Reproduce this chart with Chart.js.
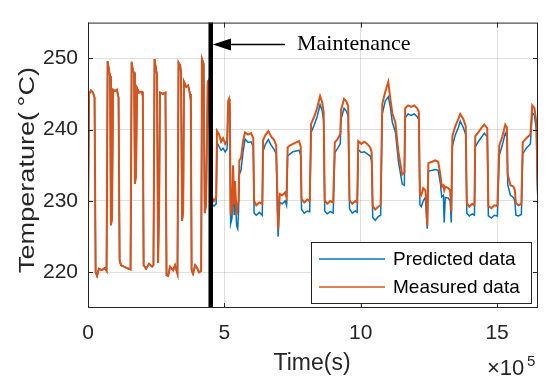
<!DOCTYPE html>
<html>
<head>
<meta charset="utf-8">
<script src="https://cdn.jsdelivr.net/npm/chart.js@4"></script>
<style>
  html, body { margin: 0; padding: 0; background: #fff; }
  #wrap { width: 550px; height: 387px; }
</style>
</head>
<body>
<div id="wrap"><canvas id="grafico" width="550" height="387"></canvas></div>
<script>
// tiempo en unidades de 1e5 s
const timeBefore = [0.00, 0.04, 0.11, 0.18, 0.24, 0.28, 0.33, 0.40, 0.51, 0.62, 0.68, 0.72, 0.77, 0.81, 0.84, 0.88,
  0.92, 0.99, 1.06, 1.12, 1.16, 1.21, 1.32, 1.43, 1.56, 1.60, 1.65, 1.69, 1.72, 1.76, 1.80, 1.87, 1.98, 2.01,
  2.04, 2.13, 2.24, 2.35, 2.40, 2.44, 2.50, 2.53, 2.57, 2.61, 2.64, 2.75, 2.84, 2.88, 2.94, 3.01, 3.12, 3.19,
  3.28, 3.32, 3.38, 3.41, 3.45, 3.49, 3.52, 3.60, 3.67, 3.74, 3.77, 3.80, 3.85, 3.93, 4.00, 4.07, 4.15, 4.18,
  4.24, 4.28, 4.33, 4.39, 4.44, 4.50];
const measuredBefore = [227.0, 245.0, 245.5, 245.2, 244.5, 220.0, 219.5, 220.5, 220.3, 220.6, 220.2, 249.6, 248.3, 247.5, 226.6, 227.5,
  245.6, 245.4, 245.6, 244.5, 221.6, 221.0, 220.8, 220.6, 220.4, 249.5, 248.2, 248.0, 232.4, 233.5, 245.8, 245.2, 245.3, 244.6,
  221.0, 220.5, 221.2, 220.8, 221.0, 249.9, 248.3, 247.8, 221.3, 230.0, 245.2, 245.0, 245.2, 219.6, 219.5, 220.8, 220.3, 221.0,
  219.8, 249.4, 249.0, 248.0, 227.2, 228.5, 246.7, 246.0, 246.2, 245.0, 244.0, 220.3, 219.8, 221.0, 220.6, 220.0, 220.2, 249.9,
  249.2, 228.3, 229.5, 246.7, 247.0, 228.0];
const predictedBefore = [227.0, 245.0, 245.5, 245.2, 244.5, 220.0, 219.5, 220.5, 220.3, 220.6, 220.2, 249.6, 248.3, 247.5, 226.6, 227.5,
  245.6, 245.4, 245.6, 244.5, 221.6, 221.0, 220.8, 220.6, 220.4, 249.5, 248.2, 248.0, 232.4, 233.5, 245.8, 245.2, 245.3, 244.6,
  221.0, 220.5, 221.2, 220.8, 221.0, 249.9, 248.3, 247.8, 221.3, 230.0, 245.2, 245.0, 245.2, 219.6, 219.5, 220.8, 220.3, 221.0,
  219.8, 249.4, 249.0, 248.0, 227.2, 228.5, 246.7, 246.0, 246.2, 245.0, 244.0, 220.3, 219.8, 221.0, 220.6, 220.0, 220.2, 249.9,
  249.2, 228.3, 229.5, 246.7, 247.0, 228.0];

const timeAfter = [4.55, 4.62, 4.70, 4.73, 4.81, 4.88, 4.95, 5.03, 5.10, 5.14, 5.17, 5.20, 5.23, 5.28, 5.32, 5.36, 5.39, 5.45,
  5.49, 5.52, 5.55, 5.61, 5.69, 5.76, 5.87, 5.98, 6.06, 6.09, 6.17, 6.28, 6.39, 6.42, 6.50, 6.61, 6.72, 6.83, 6.90,
  6.94, 6.97, 7.03, 7.12, 7.23, 7.28, 7.32, 7.41, 7.52, 7.63, 7.74, 7.80, 7.83, 7.93, 8.04, 8.13, 8.18, 8.29, 8.40,
  8.51, 8.59, 8.64, 8.68, 8.77, 8.88, 8.99, 9.05, 9.14, 9.25, 9.28, 9.39, 9.47, 9.54, 9.59, 9.69, 9.80, 9.87, 9.91,
  10.02, 10.13, 10.24, 10.35, 10.40, 10.44, 10.53, 10.64, 10.73, 10.79, 10.90, 11.01, 11.08, 11.16, 11.27, 11.38,
  11.45, 11.52, 11.60, 11.63, 11.74, 11.85, 11.96, 12.07, 12.13, 12.17, 12.22, 12.29, 12.37, 12.40, 12.44, 12.48,
  12.62, 12.73, 12.84, 12.92, 12.97, 13.03, 13.06, 13.10, 13.21, 13.28, 13.32, 13.36, 13.47, 13.58, 13.65, 13.76,
  13.85, 13.89, 13.98, 14.09, 14.17, 14.20, 14.31, 14.42, 14.53, 14.64, 14.68, 14.79, 14.90, 15.01, 15.08, 15.19,
  15.30, 15.36, 15.39, 15.49, 15.60, 15.65, 15.69, 15.78, 15.89, 15.94, 16.07, 16.22, 16.29, 16.37, 16.44, 16.48, 16.51];
const measuredAfter = [230.5, 230.0, 230.5, 239.8, 239.3, 238.3, 238.8, 238.0, 238.5, 244.0, 244.3, 243.0, 228.0, 229.0, 235.0, 229.5, 232.8, 228.0,
  229.5, 230.0, 235.7, 236.0, 238.5, 239.6, 239.3, 239.5, 238.8, 230.0, 229.4, 229.8, 229.6, 238.5, 239.2, 239.8, 239.0, 238.5, 237.8,
  231.2, 226.0, 231.0, 230.8, 231.2, 230.5, 237.5, 237.8, 238.0, 238.2, 238.4, 237.6, 230.3, 229.8, 230.2, 230.0, 240.8, 241.8, 243.0,
  244.7, 243.8, 242.5, 230.1, 229.6, 230.0, 229.8, 238.2, 238.6, 239.4, 242.8, 244.3, 244.0, 243.3, 230.1, 229.6, 230.0, 229.8, 238.4,
  238.0, 238.3, 238.0, 237.5, 236.8, 229.3, 228.8, 229.2, 229.4, 243.6, 245.3, 246.7, 244.5, 242.3, 241.0, 236.9,
  235.3, 233.7, 234.0, 243.0, 243.4, 243.2, 243.4, 243.0, 242.5, 231.0, 230.8, 231.8, 231.5, 230.0, 226.5, 235.3,
  235.5, 235.7, 235.5, 233.7, 232.0, 232.2, 231.5, 232.0, 231.8, 231.5, 228.5, 239.1, 240.5, 241.5, 242.2, 241.5,
  240.5, 229.7, 229.2, 229.6, 229.4, 239.1, 239.6, 240.2, 240.7, 240.2, 229.3, 229.0, 229.4, 229.3, 237.8, 239.0,
  240.7, 240.3, 233.7, 232.2, 232.0, 231.5, 229.7, 229.4, 229.6, 238.2, 238.8, 239.3, 243.4, 243.0, 241.0, 233.0, 230.2];
const predictedAfter = [229.5, 229.3, 229.6, 238.2, 237.6, 237.1, 237.4, 236.9, 237.3, 243.0, 243.6, 242.0, 226.8, 227.6, 233.5, 228.0, 231.0, 226.5,
  226.1, 228.5, 233.7, 234.3, 237.0, 238.7, 238.2, 238.3, 237.6, 228.3, 228.0, 228.4, 228.0, 237.0, 237.9, 238.6, 237.8, 237.2, 236.6,
  230.0, 225.0, 229.8, 229.6, 230.0, 229.4, 236.3, 236.6, 236.9, 237.0, 237.1, 236.4, 228.8, 228.3, 228.6, 228.5, 239.6, 240.6, 241.8,
  243.5, 242.6, 241.2, 228.6, 228.2, 228.5, 228.3, 236.8, 237.3, 238.0, 241.5, 243.0, 242.6, 241.9, 228.9, 228.3, 228.6, 228.4, 237.2,
  236.8, 236.9, 236.6, 236.3, 235.6, 227.7, 227.3, 227.8, 228.0, 242.2, 244.0, 244.6, 243.3, 241.0, 239.7, 235.6,
  234.0, 232.4, 232.2, 241.7, 242.2, 242.0, 242.2, 241.8, 241.4, 229.5, 229.2, 230.0, 230.5, 228.5, 226.1, 234.2,
  234.3, 234.4, 234.3, 232.5, 230.6, 230.8, 227.0, 230.5, 230.4, 230.0, 227.0, 237.7, 239.3, 240.3, 241.2, 240.3,
  239.3, 228.3, 227.9, 228.2, 228.0, 237.6, 238.3, 238.9, 239.5, 239.0, 227.9, 227.6, 228.0, 227.9, 236.4, 237.8,
  239.5, 239.0, 232.3, 230.8, 230.5, 230.0, 228.0, 227.9, 228.1, 236.6, 237.4, 238.0, 242.4, 242.0, 240.0, 231.5, 229.3];

const seriesLabels = ['Predicted data', 'Measured data'];
const xTicks = [0, 5, 10, 15];
const yTicks = [220, 230, 240, 250];
const maintenanceTime = 4.5;

const time = timeBefore.concat(timeAfter);
const predicted = predictedBefore.concat(predictedAfter);
const measured = measuredBefore.concat(measuredAfter);

const AZUL = '#0072BD';
const NARANJA = '#D95319';
const EJE = '#262626';
const SANS = '"Liberation Sans", Arial, sans-serif';

// dibuja caja, ticks internos, linea de mantenimiento, leyenda y textos
const decoracion = {
  id: 'decoracion',
  afterDatasetsDraw(chart) {
    const ctx = chart.ctx;
    const a = chart.chartArea;
    const xs = chart.scales.x;
    const ys = chart.scales.y;
    ctx.save();

    // linea de mantenimiento
    const xm = xs.getPixelForValue(maintenanceTime);
    ctx.strokeStyle = '#000';
    ctx.lineWidth = 4.5;
    ctx.beginPath();
    ctx.moveTo(xm, a.top);
    ctx.lineTo(xm, a.bottom);
    ctx.stroke();

    // caja
    ctx.strokeStyle = EJE;
    ctx.lineWidth = 1;
    ctx.strokeRect(a.left + 0.5, a.top + 0.5, a.right - a.left - 1, a.bottom - a.top - 1);

    // ticks hacia dentro
    const L = 5;
    ctx.beginPath();
    xTicks.forEach(v => {
      const p = Math.round(xs.getPixelForValue(v)) + 0.5;
      ctx.moveTo(p, a.bottom); ctx.lineTo(p, a.bottom - L);
      ctx.moveTo(p, a.top); ctx.lineTo(p, a.top + L);
    });
    yTicks.forEach(v => {
      const p = Math.round(ys.getPixelForValue(v)) + 0.5;
      ctx.moveTo(a.left, p); ctx.lineTo(a.left + L, p);
      ctx.moveTo(a.right, p); ctx.lineTo(a.right - L, p);
    });
    ctx.stroke();

    // flecha y texto
    const yA = 44.5;
    ctx.fillStyle = '#000';
    ctx.strokeStyle = '#000';
    ctx.lineWidth = 1.5;
    ctx.beginPath();
    ctx.moveTo(228, yA);
    ctx.lineTo(285, yA);
    ctx.stroke();
    ctx.beginPath();
    ctx.moveTo(xm + 2, yA);
    ctx.lineTo(231, yA - 6);
    ctx.lineTo(231, yA + 6);
    ctx.closePath();
    ctx.fill();
    ctx.font = '22px "Liberation Serif", "Times New Roman", serif';
    ctx.textBaseline = 'alphabetic';
    ctx.textAlign = 'left';
    ctx.fillText('Maintenance', 297, 50);

    // leyenda
    const lx = 311, ly = 242, lw = 220, lh = 61;
    ctx.fillStyle = '#fff';
    ctx.fillRect(lx, ly, lw, lh);
    ctx.strokeStyle = EJE;
    ctx.lineWidth = 1;
    ctx.strokeRect(lx + 0.5, ly + 0.5, lw, lh);
    ctx.font = '19px ' + SANS;
    ctx.textBaseline = 'middle';
    chart.data.datasets.forEach((ds, i) => {
      const yy = ly + 17 + i * 28;
      ctx.strokeStyle = ds.borderColor;
      ctx.lineWidth = 1.5;
      ctx.beginPath();
      ctx.moveTo(lx + 8, yy);
      ctx.lineTo(lx + 74, yy);
      ctx.stroke();
      ctx.fillStyle = '#000';
      ctx.fillText(ds.label, lx + 82, yy + 1);
    });

    // titulos de ejes
    ctx.fillStyle = EJE;
    ctx.font = '23px ' + SANS;
    ctx.textAlign = 'center';
    ctx.textBaseline = 'alphabetic';
    ctx.fillText('Time(s)', 312, 370);

    const yLabel = 'Temperature(\u2009\u00B0C)';
    ctx.font = '22px ' + SANS;
    const ancho = ctx.measureText(yLabel).width;
    ctx.save();
    ctx.translate(34, 170);
    ctx.rotate(-Math.PI / 2);
    ctx.scale(206 / ancho, 1);
    ctx.fillText(yLabel, 0, 0);
    ctx.restore();

    // multiplicador
    ctx.textAlign = 'left';
    ctx.font = '22px ' + SANS;
    ctx.fillText('\u00D710', 487, 375);
    ctx.font = '15px ' + SANS;
    ctx.fillText('5', 527, 366);

    ctx.restore();
  }
};

const ctx = document.getElementById('grafico').getContext('2d');
new Chart(ctx, {
  type: 'line',
  data: {
    datasets: [{
      label: seriesLabels[0],
      data: time.map((t, i) => ({ x: t, y: predicted[i] })),
      borderColor: AZUL,
      borderWidth: 1.5,
      pointRadius: 0,
      tension: 0,
      order: 2
    }, {
      label: seriesLabels[1],
      data: time.map((t, i) => ({ x: t, y: measured[i] })),
      borderColor: NARANJA,
      borderWidth: 2,
      pointRadius: 0,
      tension: 0,
      order: 1
    }]
  },
  options: {
    responsive: false,
    animation: false,
    devicePixelRatio: 1,
    layout: { padding: { top: 13, right: 12, left: 0, bottom: 0 } },
    plugins: { legend: { display: false }, tooltip: { enabled: false } },
    scales: {
      x: {
        type: 'linear',
        min: 0,
        max: 16.5,
        afterBuildTicks: s => { s.ticks = xTicks.map(v => ({ value: v })); },
        afterFit: s => { s.height = 79; },
        ticks: { color: EJE, font: { family: SANS, size: 21 }, padding: 13, maxRotation: 0 },
        grid: { color: 'rgba(38,38,38,0.15)', drawTicks: false },
        border: { display: false }
      },
      y: {
        min: 215,
        max: 255,
        afterBuildTicks: s => { s.ticks = yTicks.map(v => ({ value: v })); },
        afterFit: s => { s.width = 88; },
        ticks: { color: EJE, font: { family: SANS, size: 21 }, padding: 10 },
        grid: { color: 'rgba(38,38,38,0.15)', drawTicks: false },
        border: { display: false }
      }
    }
  },
  plugins: [decoracion]
});
</script>
</body>
</html>
